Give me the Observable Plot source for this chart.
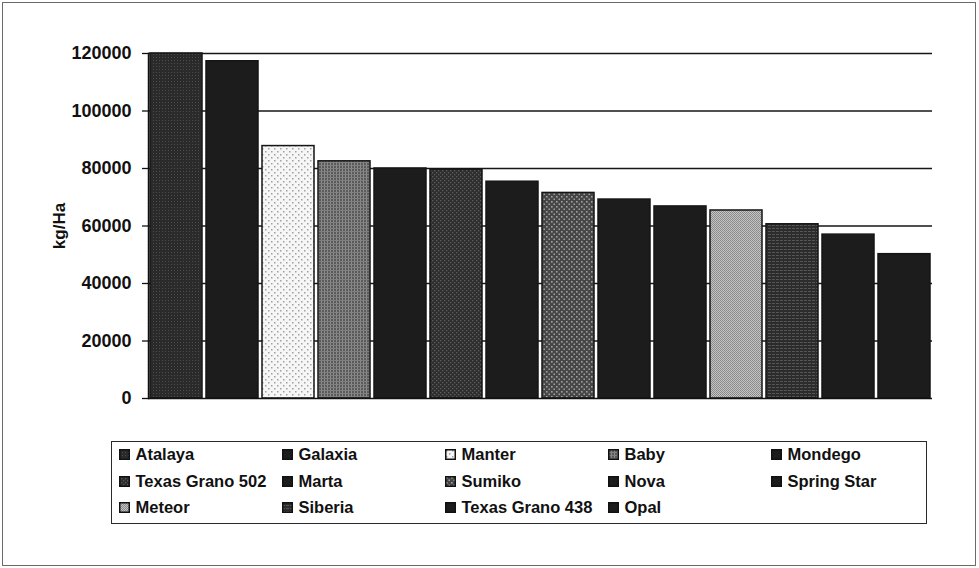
<!DOCTYPE html>
<html>
<head>
<meta charset="utf-8">
<script src="https://cdn.jsdelivr.net/npm/d3@7"></script>
<script src="https://cdn.jsdelivr.net/npm/@observablehq/plot@0.6"></script>
<style>
  html, body { margin: 0; padding: 0; background: #ffffff; }
  #wrap { position: relative; width: 979px; height: 568px; overflow: hidden; background: #fff; }
  #frame { position: absolute; left: 2px; top: 2px; width: 974px; height: 564px; box-sizing: border-box; border: 1.5px solid #6a6a6a; }
  #chart { position: absolute; left: 0; top: 0; }
  #legend { position: absolute; left: 111px; top: 441px; width: 816px; height: 83px; box-sizing: border-box;
            border: 1.5px solid #2a2a2a; font-family: "Liberation Sans", Arial, sans-serif; font-weight: bold;
            font-size: 16.5px; color: #111; }
  .entry { position: absolute; display: flex; align-items: center; height: 26px; white-space: nowrap; }
  .entry svg { margin-right: 6px; flex: none; }
</style>
</head>
<body>
<svg width="0" height="0" style="position:absolute">
  <defs>
    <pattern id="pAtalaya" width="3" height="3" patternUnits="userSpaceOnUse">
      <rect width="3" height="3" fill="#2a2a2a"/><rect width="1" height="1" fill="#4c4c4c"/>
    </pattern>
    <pattern id="pBlack" width="4" height="4" patternUnits="userSpaceOnUse">
      <rect width="4" height="4" fill="#1c1c1c"/>
    </pattern>
    <pattern id="pManter" width="6" height="6" patternUnits="userSpaceOnUse">
      <rect width="6" height="6" fill="#f6f6f6"/>
      <rect x="1" y="1" width="1.5" height="1.5" fill="#a0a0a0"/>
      <rect x="4" y="4" width="1.5" height="1.5" fill="#a0a0a0"/>
    </pattern>
    <pattern id="pBaby" width="3" height="3" patternUnits="userSpaceOnUse">
      <rect width="3" height="3" fill="#5a5a5a"/><rect width="1" height="3" fill="#8c8c8c"/><rect width="3" height="1" fill="#808080"/>
    </pattern>
    <pattern id="pTG502" width="4" height="4" patternUnits="userSpaceOnUse">
      <rect width="4" height="4" fill="#2e2e2e"/>
      <rect x="0" y="0" width="1.3" height="1.3" fill="#5a5a5a"/>
      <rect x="2" y="2" width="1.3" height="1.3" fill="#5a5a5a"/>
    </pattern>
    <pattern id="pSumiko" width="5" height="5" patternUnits="userSpaceOnUse">
      <rect width="5" height="5" fill="#464646"/>
      <rect x="1" y="1" width="1.6" height="1.6" fill="#a0a0a0"/>
      <rect x="3.5" y="3.5" width="1.6" height="1.6" fill="#a0a0a0"/>
    </pattern>
    <pattern id="pMeteor" width="2" height="2" patternUnits="userSpaceOnUse">
      <rect width="2" height="2" fill="#c4c4c4"/>
      <rect width="1" height="1" fill="#888"/><rect x="1" y="1" width="1" height="1" fill="#8e8e8e"/>
    </pattern>
    <pattern id="pSiberia" width="4" height="3" patternUnits="userSpaceOnUse">
      <rect width="4" height="3" fill="#2c2c2c"/><rect width="3" height="1" fill="#555"/>
    </pattern>
  </defs>
</svg>
<div id="wrap">
  <div id="frame"></div>
  <div id="chart"></div>
  <div id="legend"></div>
</div>
<script>
// ---- data ----
const varieties = ["Atalaya", "Galaxia", "Manter", "Baby", "Mondego", "Texas Grano 502", "Marta",
                   "Sumiko", "Nova", "Spring Star", "Meteor", "Siberia", "Texas Grano 438", "Opal"];
const yields = [120000, 117300, 87800, 82500, 80000, 79600, 75400,
                71500, 69200, 66800, 65400, 60600, 57000, 50200];
const yTicks = [0, 20000, 40000, 60000, 80000, 100000, 120000];
const yLabel = "kg/Ha";
// legend order (row-major, 5 columns)
const legendOrder = ["Atalaya", "Galaxia", "Manter", "Baby", "Mondego",
                     "Texas Grano 502", "Marta", "Sumiko", "Nova", "Spring Star",
                     "Meteor", "Siberia", "Texas Grano 438", "Opal"];

// ---- styles (fills per variety) ----
const fillOf = {
  "Atalaya": "url(#pAtalaya)", "Galaxia": "url(#pBlack)", "Manter": "url(#pManter)",
  "Baby": "url(#pBaby)", "Mondego": "url(#pBlack)", "Texas Grano 502": "url(#pTG502)",
  "Marta": "url(#pBlack)", "Sumiko": "url(#pSumiko)", "Nova": "url(#pBlack)",
  "Spring Star": "url(#pBlack)", "Meteor": "url(#pMeteor)", "Siberia": "url(#pSiberia)",
  "Texas Grano 438": "url(#pBlack)", "Opal": "url(#pBlack)"
};

const rows = varieties.map((name, i) => ({name, value: yields[i]}));

const chart = Plot.plot({
  width: 979,
  height: 430,
  marginLeft: 148,
  marginRight: 47,
  marginTop: 53,
  marginBottom: 32,
  style: {fontFamily: "'Liberation Sans', Arial, sans-serif", fontWeight: "bold", color: "#111", background: "transparent", overflow: "visible"},
  x: {domain: varieties, paddingInner: 0.07, paddingOuter: 0.03, axis: null},
  y: {domain: [0, 120000], axis: null},
  marks: [
    Plot.ruleY(yTicks.filter(t => t > 0), {stroke: "#161616", strokeWidth: 1.4}),
    ...rows.map(r => Plot.barY([r], {x: "name", y: "value", fill: fillOf[r.name], stroke: "#151515", strokeWidth: 1.5})),
    Plot.ruleY([0], {stroke: "#111", strokeWidth: 1.5}),
    Plot.frame({anchor: "left", stroke: "#111", strokeWidth: 1.5}),
    Plot.axisY({ticks: yTicks, tickSize: 6, tickPadding: 11, tickFormat: d => String(d),
                fontSize: 18, fontWeight: "bold", label: null, stroke: "#111", strokeWidth: 1.3}),
    Plot.axisY({ticks: [], label: yLabel, labelAnchor: "center", labelArrow: "none", labelOffset: 96,
                fontSize: 17, fontWeight: "bold"})
  ]
});
document.getElementById("chart").appendChild(chart);

// ---- legend ----
const legend = document.getElementById("legend");
legendOrder.forEach((name, i) => {
  const col = i % 5, row = Math.floor(i / 5);
  const e = document.createElement("div");
  e.className = "entry";
  e.style.left = (6.5 + col * 163) + "px";
  e.style.top = (-0.5 + row * 26.5) + "px";
  e.innerHTML = `<svg width="11" height="11"><rect x="0.75" y="0.75" width="9.5" height="9.5" fill="${fillOf[name]}" stroke="#111" stroke-width="1.5"/></svg><span>${name}</span>`;
  legend.appendChild(e);
});
</script>
</body>
</html>
